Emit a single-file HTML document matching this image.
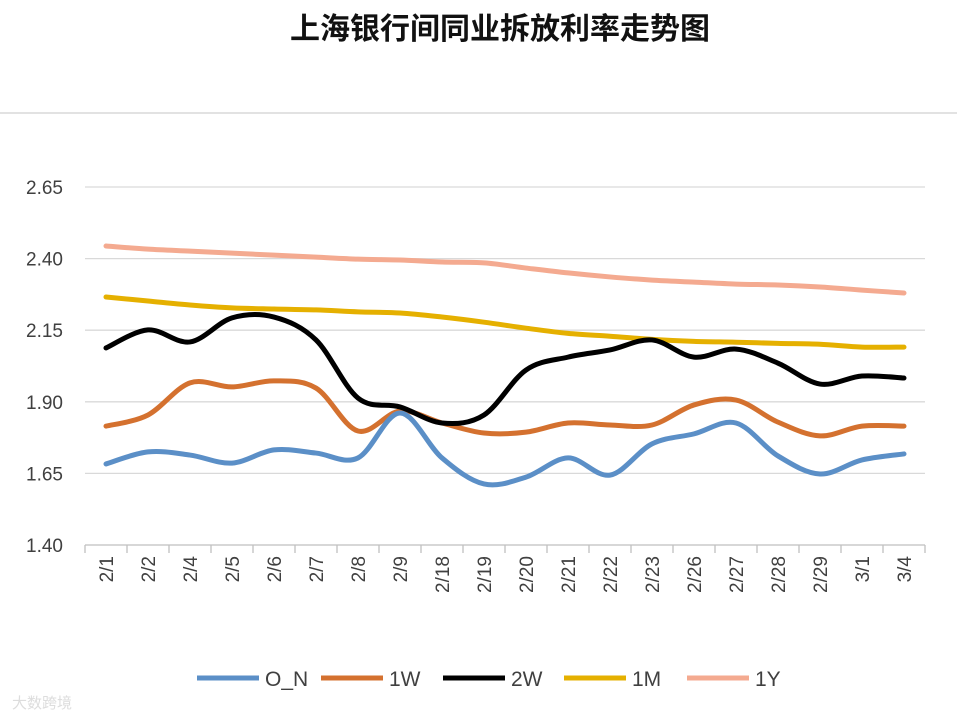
<!DOCTYPE html>
<html><head><meta charset="utf-8">
<style>
html,body{margin:0;padding:0;background:#fff;}
body{width:957px;height:720px;overflow:hidden;font-family:"Liberation Sans","Noto Sans CJK SC",sans-serif;}
</style></head>
<body>
<svg id="chart" width="957" height="720" xmlns="http://www.w3.org/2000/svg">
<text x="500" y="39" text-anchor="middle" font-size="30" font-weight="bold" fill="#111" font-family="Liberation Sans, Noto Sans CJK SC, sans-serif">上海银行间同业拆放利率走势图</text>
<line x1="0" y1="113" x2="957" y2="113" stroke="#d9d9d9" stroke-width="1.5"/>
<g id="grid"></g><g id="xaxis"></g><g id="series"></g><g id="legend"></g>
<text x="12" y="708" font-size="15" fill="#ddd">大数跨境</text>
</svg>
<script>
const categories=["2/1","2/2","2/4","2/5","2/6","2/7","2/8","2/9","2/18","2/19","2/20","2/21","2/22","2/23","2/26","2/27","2/28","2/29","3/1","3/4"];
const yTicks=[1.40,1.65,1.90,2.15,2.40,2.65];
const seriesNames=["O_N","1W","2W","1M","1Y"];
const seriesColors=["#5b8fc7","#d4712f","#000000","#e5b000","#f4aa90"];
const dataON=[1.683,1.725,1.714,1.686,1.732,1.721,1.704,1.861,1.704,1.613,1.637,1.704,1.644,1.753,1.788,1.826,1.711,1.648,1.697,1.718];
const data1W=[1.815,1.854,1.966,1.952,1.973,1.948,1.798,1.868,1.826,1.791,1.794,1.826,1.819,1.819,1.889,1.906,1.829,1.781,1.815,1.815];
const data2W=[2.088,2.151,2.109,2.193,2.196,2.116,1.913,1.882,1.826,1.854,2.011,2.056,2.081,2.116,2.056,2.084,2.035,1.962,1.990,1.983];
const data1M=[2.266,2.252,2.238,2.228,2.224,2.221,2.214,2.210,2.196,2.178,2.157,2.139,2.129,2.118,2.111,2.108,2.104,2.101,2.091,2.091];
const data1Y=[2.444,2.433,2.426,2.419,2.412,2.405,2.398,2.395,2.388,2.385,2.367,2.350,2.336,2.325,2.318,2.311,2.308,2.301,2.290,2.280];
const allData=[dataON,data1W,data2W,data1M,data1Y];

const NS="http://www.w3.org/2000/svg";
const L=85,R=925,T=187,B=545,yMin=1.40,yMax=2.65;
const step=(R-L)/categories.length;
function xS(i){return L+step*(i+0.5);}
function yS(v){return B-(v-yMin)/(yMax-yMin)*(B-T);}
function mk(tag,attrs,parent){const e=document.createElementNS(NS,tag);for(const k in attrs)e.setAttribute(k,attrs[k]);parent.appendChild(e);return e;}

const grid=document.getElementById('grid');
yTicks.forEach(v=>{
  const y=yS(v);
  if(v>yMin){const ln=mk('line',{x1:L,y1:y,x2:R,y2:y,stroke:'#d9d9d9','stroke-width':1.3},grid);
  
  }
  const t=mk('text',{x:63,y:y+7,'text-anchor':'end','font-size':19,fill:'#404040'},grid);
  t.textContent=v.toFixed(2);
  
  
});
const xa=document.getElementById('xaxis');
const ax=mk('line',{x1:L,y1:B,x2:R,y2:B,stroke:'#bfbfbf','stroke-width':1.3},xa);


for(let i=0;i<=categories.length;i++){
  const x=L+step*i;
  const tk=mk('line',{x1:x,y1:B,x2:x,y2:B+8,stroke:'#bfbfbf','stroke-width':1.3},xa);
  
  
}
categories.forEach((c,i)=>{
  const x=xS(i)+7,y=556;
  const t=mk('text',{x:x,y:y,'text-anchor':'end','font-size':19,fill:'#404040',transform:`rotate(-90 ${x} ${y})`},xa);
  t.textContent=c;
  
  
});
function smooth(pts){
  let d=`M${pts[0][0]},${pts[0][1]}`;
  for(let i=0;i<pts.length-1;i++){
    const p0=pts[i-1]||pts[i],p1=pts[i],p2=pts[i+1],p3=pts[i+2]||p2;
    const c1=[p1[0]+(p2[0]-p0[0])/6,p1[1]+(p2[1]-p0[1])/6];
    const c2=[p2[0]-(p3[0]-p1[0])/6,p2[1]-(p3[1]-p1[1])/6];
    d+=` C${c1[0]},${c1[1]} ${c2[0]},${c2[1]} ${p2[0]},${p2[1]}`;
  }
  return d;
}
const sg=document.getElementById('series');
const order=[4,3,1,0,2];
order.forEach(k=>{
  const pts=allData[k].map((v,i)=>[xS(i),yS(v)]);
  const p=mk('path',{d:smooth(pts),fill:'none',stroke:seriesColors[k],'stroke-width':5,'stroke-linejoin':'round','stroke-linecap':'round'},sg);
  
  
});
const lg=document.getElementById('legend');
const lx=[197,321,443,564,687];
seriesNames.forEach((n,k)=>{
  const g=mk('g',{},lg);
  
  
  mk('line',{x1:lx[k],y1:678,x2:lx[k]+62,y2:678,stroke:seriesColors[k],'stroke-width':5},g);
  const t=mk('text',{x:lx[k]+68,y:686,'font-size':21,fill:'#404040'},g);
  t.textContent=n;
});
</script>
</body></html>
